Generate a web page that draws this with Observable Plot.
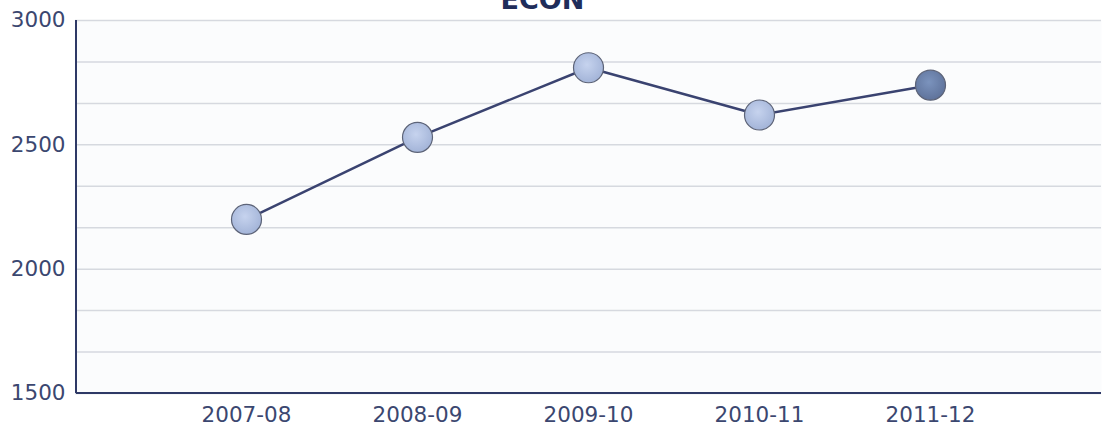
<!DOCTYPE html>
<html>
<head>
<meta charset="utf-8">
<script src="https://cdn.jsdelivr.net/npm/d3@7"></script>
<script src="https://cdn.jsdelivr.net/npm/@observablehq/plot@0.6"></script>
<style>
  html, body { margin: 0; padding: 0; background: #ffffff; overflow: hidden; }
  #wrap { position: relative; width: 1111px; height: 431px; }
  #title { position: absolute; left: -13px; width: 1111px; top: -16px; text-align: center; line-height: 1.2;
           font-family: "DejaVu Sans", Verdana, sans-serif; font-weight: bold; font-size: 27px; color: #1f2d5a; z-index: 2; }
  svg { display: block; }
</style>
</head>
<body>
<div id="wrap"><div id="title">ECON</div></div>
<script>
const title = "ECON";
const categories = ["2007-08", "2008-09", "2009-10", "2010-11", "2011-12"];
const values = [2200, 2530, 2810, 2620, 2740];
const yTicks = [1500, 2000, 2500, 3000];

const data = categories.map((c, i) => ({ year: c, value: values[i], i }));
const gridLines = d3.range(0, 10).map(k => 1500 + k * 500 / 3);
const last = categories.length - 1;

const chart = Plot.plot({
  width: 1111,
  height: 431,
  marginLeft: 75,
  marginRight: 10,
  marginTop: 20,
  marginBottom: 38,
  style: { fontFamily: "'DejaVu Sans', Verdana, sans-serif", fontSize: "21.5px", color: "#3b4770", background: "transparent", overflow: "visible" },
  x: { type: "point", domain: categories, padding: 1, label: null },
  y: { domain: [1500, 3000], label: null },
  marks: [
    Plot.frame({ fill: "#fbfcfd", stroke: "none" }),
    Plot.ruleY(gridLines, { stroke: "#d6d9df", strokeWidth: 1.5 }),
    Plot.axisY({ ticks: yTicks, tickSize: 0, tickPadding: 10, tickFormat: d => String(d), fill: "#3b4770", fontSize: 21.5, label: null }),
    Plot.axisX({ tickSize: 0, tickPadding: 13, fill: "#3b4770", fontSize: 21.5, label: null }),
    Plot.line(data, { x: "year", y: "value", stroke: "#3a4370", strokeWidth: 2.5 }),
    Plot.dot(data, { x: "year", y: "value", r: 15, fill: d => d.i === last ? "url(#gDark)" : "url(#gLight)", stroke: "#5d6478", strokeWidth: 1.2 })
  ]
});

// axis lines
const svg = d3.select(chart);
svg.append("line").attr("x1", 76).attr("x2", 76).attr("y1", 20).attr("y2", 393).attr("stroke", "#2e3966").attr("stroke-width", 2);
svg.append("line").attr("x1", 76).attr("x2", 1101).attr("y1", 393).attr("y2", 393).attr("stroke", "#2e3966").attr("stroke-width", 2);

const defs = svg.insert("defs", ":first-child");
const g1 = defs.append("radialGradient").attr("id", "gLight").attr("cx", "45%").attr("cy", "40%").attr("r", "60%");
g1.append("stop").attr("offset", "0%").attr("stop-color", "#c6d3ee");
g1.append("stop").attr("offset", "100%").attr("stop-color", "#a3b4d8");
const g2 = defs.append("radialGradient").attr("id", "gDark").attr("cx", "45%").attr("cy", "40%").attr("r", "60%");
g2.append("stop").attr("offset", "0%").attr("stop-color", "#7b93bd");
g2.append("stop").attr("offset", "100%").attr("stop-color", "#5f739b");

document.getElementById("wrap").appendChild(chart);
</script>
</body>
</html>
